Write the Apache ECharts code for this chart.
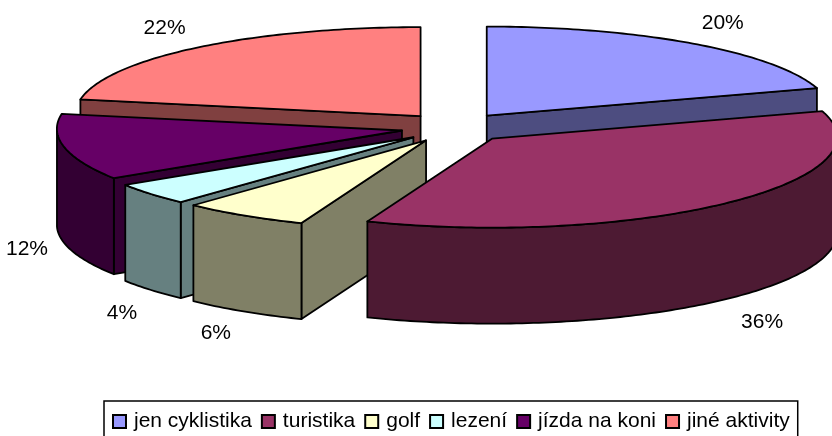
<!DOCTYPE html>
<html>
<head>
<meta charset="utf-8">
<style>html,body{margin:0;padding:0;background:#fff;overflow:hidden}#c{width:832px;height:436px}</style>
<script src="https://cdn.jsdelivr.net/npm/echarts@6/dist/echarts.min.js"></script>
</head>
<body>
<div id="c"></div>
<script>
const categories = ['jen cyklistika', 'turistika', 'golf', 'lezení', 'jízda na koni', 'jiné aktivity'];
const values = [20, 36, 6, 4, 12, 22];
const topColors = ['#9999FF', '#993366', '#FFFFCC', '#CCFFFF', '#660066', '#FF8080'];
const sideColors = ['#4D4D80', '#4D1A33', '#808066', '#668080', '#330033', '#804040'];
const paintOrder = [5, 0, 4, 3, 2, 1];
const labelNudgeX = [2, 3, 6, 5, -6, -5];
const labelNudgeY = [3, 1, -1, 4, 0, 4];

const CX = 455, CY = 127.7, RX = 345, RX_TILT = 7, RY = 89, DEPTH = 96, EX = 54, EY = 15;
const total = values.reduce((a, b) => a + b, 0);
const FONT_SIZE = 21;
const FAMILY = '"Liberation Sans", Arial, sans-serif';

function slice(i) {
  let before = 0;
  for (let k = 0; k < i; k++) before += values[k];
  const a0 = before / total * 2 * Math.PI;
  const a1 = (before + values[i]) / total * 2 * Math.PI;
  const m = (a0 + a1) / 2;
  return { a0, a1, m, ax: CX + EX * Math.sin(m), ay: CY - EY * Math.cos(m) };
}

function renderSlice(i) {
  const s = slice(i);
  const rim = a => [s.ax + (RX + RX_TILT * Math.cos(a)) * Math.sin(a), s.ay - RY * Math.cos(a)];
  const down = p => [p[0], p[1] + DEPTH];
  const lineStyle = { stroke: '#000', lineWidth: 1.8, lineJoin: 'round' };
  const poly = (points, fill) => ({
    type: 'polygon', shape: { points },
    style: Object.assign({ fill }, lineStyle)
  });
  const children = [];
  const apex = [s.ax, s.ay];
  const side = sideColors[i];
  // radial walls facing the viewer
  if (Math.sin(s.a0) < -1e-6) {
    const p = rim(s.a0);
    children.push(poly([apex, p, down(p), down(apex)], side));
  }
  if (Math.sin(s.a1) > 1e-6) {
    const p = rim(s.a1);
    children.push(poly([apex, p, down(p), down(apex)], side));
  }
  // outer wall: only the front half of the rim is visible
  const w0 = Math.max(s.a0, Math.PI / 2), w1 = Math.min(s.a1, 3 * Math.PI / 2);
  if (w1 > w0) {
    const upper = [], n = Math.ceil((w1 - w0) * 60);
    for (let k = 0; k <= n; k++) upper.push(rim(w0 + (w1 - w0) * k / n));
    const lower = upper.map(down).reverse();
    children.push(poly(upper.concat(lower), side));
  }
  // top face
  const top = [apex], n = Math.ceil((s.a1 - s.a0) * 60);
  for (let k = 0; k <= n; k++) top.push(rim(s.a0 + (s.a1 - s.a0) * k / n));
  children.push(poly(top, topColors[i]));
  // percentage label
  const sn = Math.sin(s.m), cs = Math.cos(s.m);
  const lx = s.ax + 342 * sn + 33 * Math.sign(sn) + labelNudgeX[i];
  const ly = s.ay - RY * cs + (cs < 0 ? DEPTH : 0) + Math.sign(-cs || 1) * Math.min(23, 30 * Math.abs(cs)) + labelNudgeY[i];
  children.push({
    type: 'text',
    style: {
      x: lx, y: ly, text: Math.round(values[i] / total * 100) + '%',
      fontSize: FONT_SIZE, fontFamily: FAMILY, fill: '#000', align: 'center', verticalAlign: 'middle'
    }
  });
  return { type: 'group', children };
}

const series = categories.map((name, i) => ({
  type: 'custom',
  name,
  coordinateSystem: 'none',
  z: 2 + paintOrder.indexOf(i),
  silent: true,
  animation: false,
  clip: false,
  itemStyle: { color: topColors[i] },
  data: [[values[i]]],
  renderItem: () => renderSlice(i)
}));

const chart = echarts.init(document.getElementById('c'), null, { renderer: 'canvas' });
chart.setOption({
  animation: false,
  backgroundColor: '#fff',
  legend: {
    data: categories,
    selectedMode: false,
    left: 104,
    top: 401,
    orient: 'horizontal',
    padding: [10, 8, 16, 8],
    backgroundColor: '#fff',
    borderColor: '#000',
    borderWidth: 1.5,
    itemGap: 9,
    itemWidth: 13,
    itemHeight: 13,
    icon: 'rect',
    itemStyle: { borderColor: '#000', borderWidth: 2 },
    textStyle: { color: '#000', fontFamily: FAMILY, fontSize: FONT_SIZE, padding: [0, 0, 0, 3] }
  },
  series
});
</script>
</body>
</html>
